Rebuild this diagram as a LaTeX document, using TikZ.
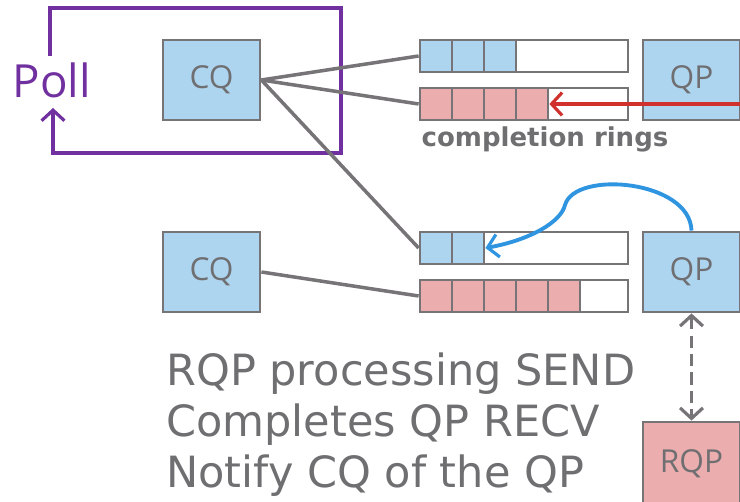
\documentclass[tikz,border=0pt]{standalone}
\usepackage{fontspec}
\setmainfont{DejaVu Sans}
\newfontfamily\labelfont{Open Sans}
\usetikzlibrary{arrows.meta}

\definecolor{qblue}{HTML}{AED5F0}
\definecolor{qpink}{HTML}{EBADAE}
\definecolor{boxgray}{HTML}{767476}
\definecolor{txtgray}{HTML}{6F6F72}
\definecolor{pollpurple}{HTML}{7030A0}
\definecolor{arrowred}{HTML}{D0312D}
\definecolor{arrowblue}{HTML}{2F95E0}

\begin{document}
\begin{tikzpicture}[x=0.02cm,y=-0.02cm,
    >={Straight Barb[length=6pt,width=13pt,line width=1.8pt]},
    box/.style={draw=boxgray,line width=1.6pt,minimum width=1.94cm,minimum height=1.6cm,
      inner sep=0pt,text=txtgray,font=\labelfont\fontsize{18}{20}\selectfont},
    ring/.style={draw=boxgray,fill=white,line width=1.6pt,minimum width=4.16cm,
      minimum height=0.64cm,inner sep=0pt},
    cell/.style={draw=boxgray,line width=1.6pt,minimum width=0.64cm,
      minimum height=0.64cm,inner sep=0pt},
    link/.style={draw=boxgray,line width=2pt}]
  \clip (0,0) rectangle (740,502);
  % poll loop
  \node[text=pollpurple,font=\labelfont\fontsize{26}{28}\selectfont] (poll) at (52,80) {Poll};
  \coordinate (pollA) at (50,56);
  \coordinate (pollB) at (53,108);
  \draw[pollpurple,line width=2.2pt,->] (pollA) |- (341,8) -- (341,153) -| (pollB);
  % completion queues
  \node[box,fill=qblue] (cqA) at (211.5,80) {CQ};
  \node[box,fill=qblue] (cqB) at (211.5,272) {CQ};
  % rings
  \node[ring] (ringA) at (524,56) {};
  \node[ring] (ringB) at (524,104) {};
  \node[ring] (ringC) at (524,248) {};
  \node[ring] (ringD) at (524,296) {};
  \foreach \i in {0,1,2}
    \node[cell,fill=qblue] (a\i) at (436+32*\i,56) {};
  \foreach \i in {0,...,3}
    \node[cell,fill=qpink] (b\i) at (436+32*\i,104) {};
  \foreach \i in {0,1}
    \node[cell,fill=qblue] (c\i) at (436+32*\i,248) {};
  \foreach \i in {0,...,4}
    \node[cell,fill=qpink] (d\i) at (436+32*\i,296) {};
  \node[text=txtgray,font=\bfseries\fontsize{14.8}{16}\selectfont] (ringlabel) at (545,139) {completion rings};
  % queue pairs
  \node[box,fill=qblue] (qpA) at (691.5,80) {QP};
  \node[box,fill=qblue] (qpB) at (691.5,272) {QP};
  \node[box,fill=qpink,minimum height=1.68cm] (rqp) at (691.5,464) {RQP};
  % links
  \draw[link] (cqA.east) -- (ringA.west);
  \draw[link] (cqA.east) -- (ringB.west);
  \draw[link] (cqA.east) -- (ringC.west);
  \draw[link] (cqB.east) -- (ringD.west);
  \coordinate (redin) at (742,104);
  \draw[arrowred,line width=2.2pt,->] (redin) -- (b3.east);
  \draw[arrowblue,line width=2.2pt,->] (qpB.north) .. controls (690,180) and (575,170) .. (565,205)
    .. controls (561,222) and (530,240) .. (c1.east);
  \draw[boxgray,line width=2pt,dash pattern=on 7pt off 3.5pt,<->]
    (qpB.south) -- (rqp.north);
  % steps
  \node[anchor=north west,align=left,text=txtgray,font=\fontsize{24.5}{29}\selectfont] (steps)
    at (160,347) {RQP processing SEND\\Completes QP RECV\\Notify CQ of the QP};
\end{tikzpicture}
\end{document}
